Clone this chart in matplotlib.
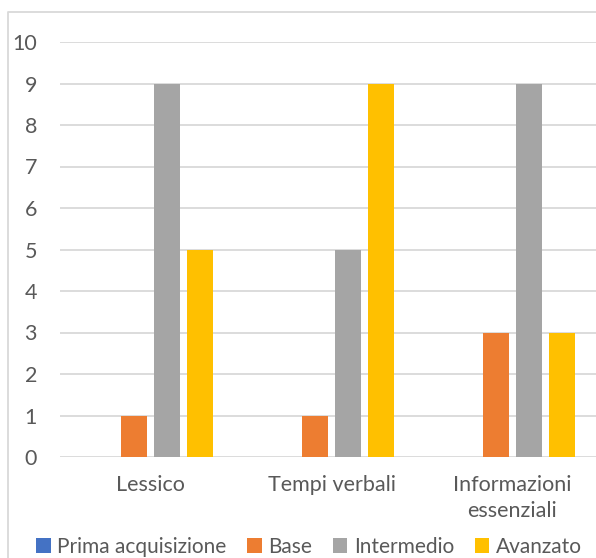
import matplotlib.pyplot as plt
import numpy as np
from matplotlib.lines import Line2D

categorie = ['Lessico', 'Tempi verbali', 'Informazioni\nessenziali']
livelli = ['Prima acquisizione', 'Base', 'Intermedio', 'Avanzato']
prima = [0, 0, 0]
base = [1, 1, 3]
intermedio = [9, 5, 9]
avanzato = [5, 9, 3]
colori = ['#4472C4', '#ED7D31', '#A5A5A5', '#FFC000']

W, H = 596, 558
plt.rcParams['font.family'] = ['Lato', 'DejaVu Sans']
fig = plt.figure(figsize=(W / 100, H / 100), dpi=100)
# l'area del grafico sborda leggermente a destra
ax = fig.add_axes([60 / W, 1 - 457 / H, 543 / W, 415 / H])

x = np.arange(len(categorie))
passo = 0.182
larghezza = 0.144
serie = [prima, base, intermedio, avanzato]
for i, (nome, valori) in enumerate(zip(livelli, serie)):
    ax.bar(x + (i - 1.5) * passo, valori, larghezza, color=colori[i],
           label=nome, zorder=3)

ax.set_xlim(-0.5, 2.5)
ax.set_ylim(0, 10)
ax.set_yticks(range(0, 11))
ax.set_xticks(x)
ax.set_xticklabels(categorie, linespacing=1.4)
ax.grid(axis='y', color='#D9D9D9', linewidth=1.3, zorder=0)
for s in ax.spines.values():
    s.set_visible(False)
ax.tick_params(length=0, labelsize=15.5, colors='#595959')
ax.tick_params(axis='x', pad=13)
ax.tick_params(axis='y', pad=16.5)

# cornice (solo bordo sinistro e superiore entrano nell'immagine)
fig.add_artist(Line2D([8 / W, 8 / W, 1], [0, 1 - 12 / H, 1 - 12 / H],
                      transform=fig.transFigure, color='#D9D9D9',
                      linewidth=1.3))

fig.legend(loc='center', bbox_to_anchor=(309 / W, 1 - 547 / H), ncol=4,
           frameon=False, fontsize=15, handlelength=0.7, handleheight=0.7,
           handletextpad=0.3, columnspacing=1.0, labelcolor='#595959',
           borderpad=0, borderaxespad=0)

fig.savefig('out.png', dpi=100)
